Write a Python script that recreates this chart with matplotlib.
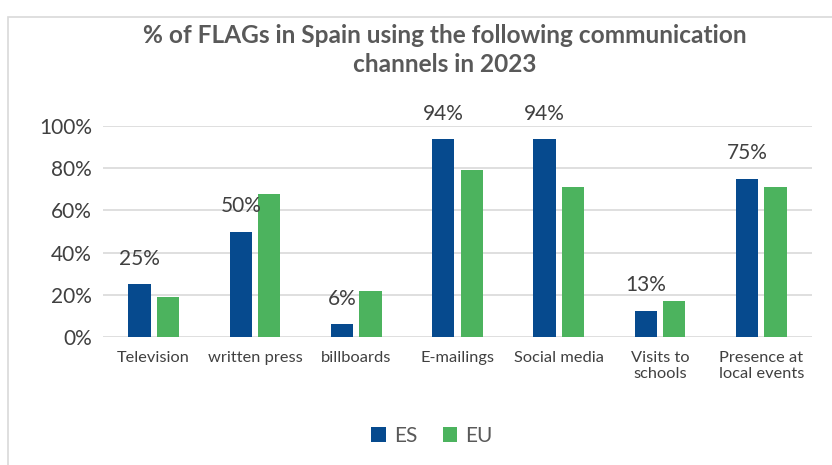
import numpy as np
import matplotlib
matplotlib.use("Agg")
import matplotlib.pyplot as plt
from matplotlib.patches import Rectangle
import math

# Data
channels = ["Television", "written press", "billboards", "E-mailings", "Social media",
            "Visits to\nschools", "Presence at\nlocal events"]
es_values = [25, 50, 6.25, 93.75, 93.75, 12.5, 75]
eu_values = [19, 68, 22, 79, 71, 17, 71]
y_ticks = [0, 20, 40, 60, 80, 100]

plt.rcParams['font.family'] = ['Lato', 'DejaVu Sans']

es_color = "#064A8E"
eu_color = "#4CB35E"
text_color = "#404040"

fig = plt.figure(figsize=(8.32, 4.65), dpi=100)
fig.patches.append(Rectangle((8 / 832, -0.01), 1.0, 1 - 17 / 465 + 0.01, transform=fig.transFigure,
                             fill=False, edgecolor="#D9D9D9", linewidth=1.2))

ax = fig.add_axes([103 / 832, 1 - 337 / 465, (812 - 103) / 832, (337 - 126) / 465])

x = np.arange(len(channels))
w = 0.22
ax.bar(x - 0.14, es_values, w, color=es_color, label="ES", zorder=3)
ax.bar(x + 0.14, eu_values, w, color=eu_color, label="EU", zorder=3)

# data labels for ES (Excel style rounding)
for xi, v in zip(x, es_values):
    ax.annotate(f"{math.floor(v + 0.5)}%", (xi - 0.14, v), xytext=(0, 11), textcoords="offset points",
                ha="center", va="bottom", fontsize=15, color=text_color, annotation_clip=False)

ax.set_xlim(-0.5, len(channels) - 0.5)
ax.set_ylim(0, 100)
ax.set_yticks(y_ticks)
ax.set_yticklabels([f"{t}%" for t in y_ticks], fontsize=15, color=text_color)
ax.set_xticks(x)
ax.set_xticklabels(channels, fontsize=11.8, color=text_color)
ax.tick_params(length=0, pad=8)
ax.tick_params(axis="x", pad=10)
ax.grid(axis="y", color="#D9D9D9", linewidth=1.2, zorder=0)
for s in ax.spines.values():
    s.set_visible(False)

fig.text(445 / 832, 1 - 50 / 465, "% of FLAGs in Spain using the following communication\nchannels in 2023",
         ha="center", va="center", fontsize=17.6, fontweight="bold", color="#595959", linespacing=1.35)

fig.legend(loc="center", bbox_to_anchor=(432 / 832, 1 - 436 / 465), ncol=2, frameon=False,
           fontsize=15, labelcolor="#595959", handlelength=0.7, handleheight=0.7,
           columnspacing=1.2, handletextpad=0.4)

fig.savefig("out.png", dpi=100)
